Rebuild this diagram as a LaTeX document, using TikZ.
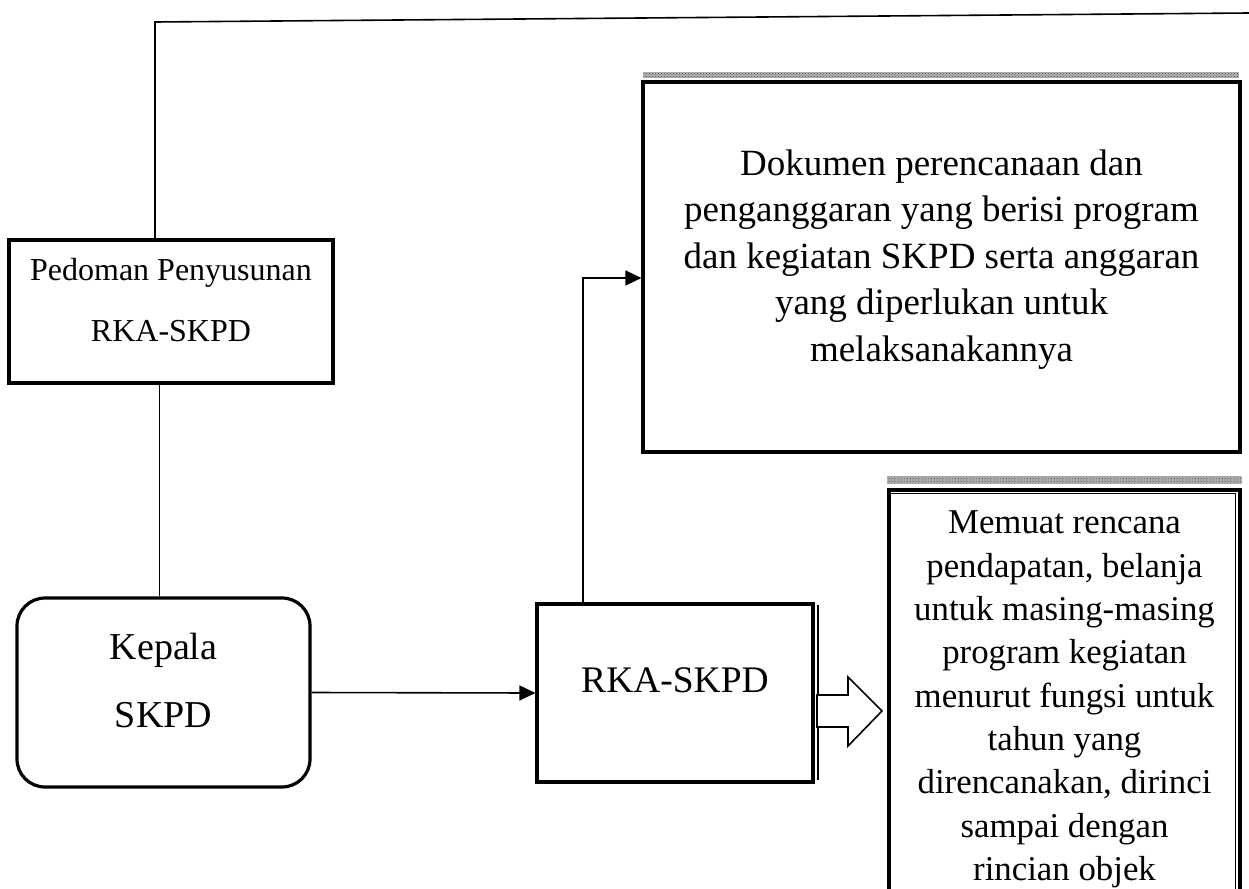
\documentclass[tikz,border=0pt]{standalone}
\usepackage{fontspec}
\setmainfont{Liberation Serif}
\usetikzlibrary{arrows.meta,patterns}

\begin{document}
\begin{tikzpicture}
[x=1pt,y=-1pt,
 box/.style={draw,line width=3.2pt,inner sep=0pt},
 txt/.style={align=center,inner sep=0pt},
 link/.style={line width=1.6pt},
 tip/.style={link,-{Triangle[length=16pt,width=15pt]}},
 strip/.style={fill=black!30,pattern=crosshatch dots,pattern color=black!70}]
\useasboundingbox (0,0) rectangle (1249,888);
% boxes
\node[box,minimum width=324pt,minimum height=143pt] (pedoman) at (171,311.5) {};
\node[box,rounded corners=28pt,minimum width=293pt,minimum height=189pt] (kepala) at (163.5,692.5) {};
\node[box,minimum width=276pt,minimum height=178pt] (rka) at (675,693) {};
\node[box,minimum width=597pt,minimum height=370pt] (dokumen) at (941.5,267) {};
\node[box,minimum width=351pt,minimum height=415pt] (muat) at (1064.5,697.5) {};
% texts
\node[txt,font=\fontsize{32}{61}\selectfont] (pedomantxt) at ([yshift=11.5pt]pedoman.center) {Pedoman Penyusunan\\RKA-SKPD};
\node[txt,font=\fontsize{38}{68}\selectfont] (kepalatxt) at ([yshift=12pt]kepala.center) {Kepala\\SKPD};
\node[txt,font=\fontsize{37.5}{44}\selectfont] (rkatxt) at ([yshift=13pt]rka.center) {RKA-SKPD};
\node[txt,font=\fontsize{37}{46.5}\selectfont] (dokumentxt) at ([yshift=7.5pt]dokumen.center) {Dokumen perencanaan dan\\penganggaran yang berisi program\\dan kegiatan SKPD serta anggaran\\yang diperlukan untuk\\melaksanakannya};
\node[txt,font=\fontsize{34.8}{43.3}\selectfont] (muattxt) at ([yshift=-2pt]muat.center) {Memuat rencana\\pendapatan, belanja\\untuk masing-masing\\program kegiatan\\menurut fungsi untuk\\tahun yang\\direncanakan, dirinci\\sampai dengan\\rincian objek};
% shadows and double edges
\fill[black!30] ([xshift=2pt,yshift=8pt]dokumen.north west) rectangle ([xshift=-3pt,yshift=2.5pt]dokumen.north east);
\fill[strip] ([xshift=2pt,yshift=8pt]dokumen.north west) rectangle ([xshift=-3pt,yshift=2.5pt]dokumen.north east);
\fill[black!30] ([yshift=12pt]muat.north west) rectangle ([yshift=4.5pt]muat.north east);
\fill[strip] ([yshift=12pt]muat.north west) rectangle ([yshift=4.5pt]muat.north east);
\draw[line width=1.3pt] ([yshift=-5pt]muat.north west) -| ([xshift=-6pt]muat.south east);
\draw[line width=1.8pt] ([xshift=3.5pt,yshift=-3pt]rka.north east) -- ([xshift=3.5pt,yshift=4pt]rka.south east);
% connectors
\coordinate (corner) at (155,22);
\coordinate (edge) at (1249,13);
\coordinate (bend) at (583,278);
\draw[link] (pedoman.north -| corner) -- (corner) -- (edge);
\draw[link] ([xshift=-4pt]kepala.north) -- ([xshift=-4pt]kepala.north |- pedoman.south);
\draw[tip] (kepala.east) -- (rka.west);
\draw[tip] (rka.north -| bend) -- (bend) -- (bend -| dokumen.west);
\draw[line width=1.6pt,fill=white] (817,695) -- (848,695) -- (848,677) -- (882,711) -- (848,746) -- (848,727) -- (817,727) -- cycle;
\end{tikzpicture}
\end{document}
